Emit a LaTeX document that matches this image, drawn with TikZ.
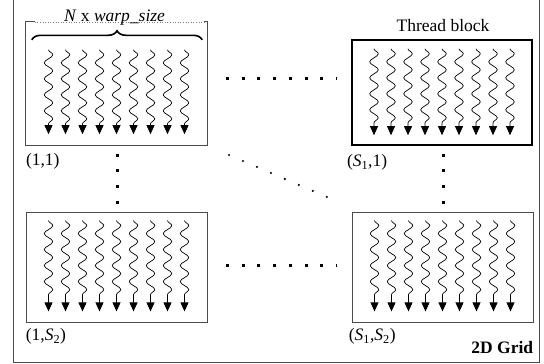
\documentclass[tikz,border=0pt]{standalone}
\usepackage{fontspec}
\setmainfont{Liberation Serif}
\usetikzlibrary{positioning, calc, arrows.meta, decorations.pathmorphing, decorations.pathreplacing}

\tikzset{
  txt/.style = {font=\fontsize{17.5}{21}\selectfont, inner sep=0pt},
  block/.style = {draw=black!70, line width=0.8pt, minimum width=181pt, minimum height=110pt, inner sep=0pt},
  thread/.style = {line width=0.7pt, decorate, decoration={snake, amplitude=4.3pt, segment length=16pt, post length=10pt}, -{Triangle[length=9pt, width=8pt]}},
  sqdots/.style = {line width=3pt, dash pattern=on 3pt off 12.7pt},
  rddots/.style = {line width=2.4pt, line cap=round, dash pattern=on 0pt off 15.2pt}
}

\begin{document}
\begin{tikzpicture}[x=1pt, y=-1pt]
  \useasboundingbox (0,0) rectangle (544,364);
  \node (grid) [draw=black!70, line width=0.8pt, minimum width=526pt, minimum height=368pt, inner sep=0pt] at (276,178) {};

  \node (TL) [minimum width=181pt, minimum height=123pt, inner sep=0pt] at (116.5,83.5) {};
  \node (TR) [block, draw=black, line width=2.4pt, minimum width=180pt, minimum height=105pt] at (442,92.5) {};
  \node (BL) [block] at (116.5,267) {};
  \node (BR) [block] at (442.5,267) {};

  % open top of the first block
  \draw [black!70, line width=0.8pt] ([xshift=9pt]TL.north west) -- (TL.north west) -- (TL.south west) -- (TL.south east) -- (TL.north east) -- ([xshift=-3pt]TL.north east);
  \draw [black!50, line width=0.6pt, dotted] ([xshift=9pt]TL.north west) -- ([xshift=-3pt]TL.north east);
  \node (size) [txt, anchor=base] at ($(TL.north)+(-2,0)$) {\textit{N} x \textit{warp\_size}};
  \draw [decorate, decoration={brace, amplitude=9pt}, line width=1.6pt] ($(TL.north west)+(6,18)$) -- ($(TL.north east)+(-5,18)$);

  \node (name) [txt, anchor=base] at ($(TR.north)+(1,-7)$) {Thread block};

  % warps of threads
  \foreach \b/\t in {TL/28, TR/10, BL/9, BR/9}
    \foreach \i in {-4,...,4}
      \draw [thread] ($(\b.north)+(\i*17,\t)$) -- ($(\b.south)+(\i*17,-11)$);

  \node (l11) [txt, anchor=north west] at ($(TL.south west)+(0,8)$) {(1,1)};
  \node (l21) [txt, anchor=north west] at ($(TR.south west)+(-4,8)$) {(\textit{S}\textsubscript{1},1)};
  \node (l12) [txt, anchor=north west] at ($(BL.south west)+(0,6)$) {(1,\textit{S}\textsubscript{2})};
  \node (l22) [txt, anchor=north west] at ($(BR.south west)+(-3,6)$) {(\textit{S}\textsubscript{1},\textit{S}\textsubscript{2})};
  \node (gname) [txt, font=\fontsize{17.5}{21}\selectfont\bfseries, anchor=base east] at ($(grid.south east)+(-6,-9)$) {2D Grid};

  % dots between the blocks
  \coordinate (topA) at (226,78);    \coordinate (topB) at (336,78);
  \coordinate (botA) at (226,265);   \coordinate (botB) at (336,265);
  \coordinate (lefA) at (117,153.5); \coordinate (lefB) at (117,204);
  \coordinate (rigA) at (443.5,153.5); \coordinate (rigB) at (443.5,204);
  \coordinate (diaA) at (229,155);   \coordinate (diaB) at (327.5,197.2);
  \draw [sqdots] (topA) -- (topB);
  \draw [sqdots] (botA) -- (botB);
  \draw [sqdots] (lefA) -- (lefB);
  \draw [sqdots] (rigA) -- (rigB);
  \draw [rddots] (diaA) -- (diaB);
\end{tikzpicture}
\end{document}
